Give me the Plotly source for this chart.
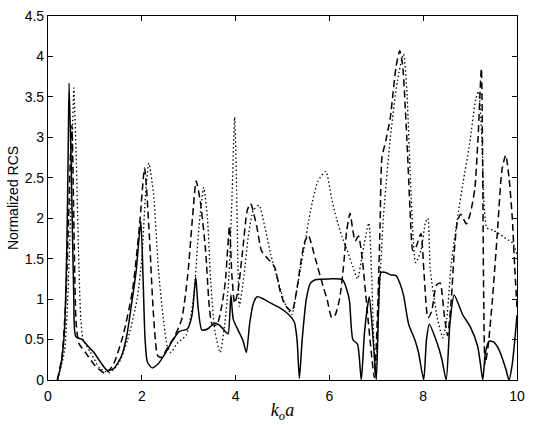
import plotly.graph_objects as go

# Solid curve
solid_x = [0.2, 0.28, 0.35, 0.4, 0.43, 0.45, 0.5, 0.55, 0.59, 0.73, 0.85, 0.98, 1.12, 1.26, 1.4, 1.57, 1.68, 1.77, 1.88, 1.98,
           2.03, 2.07, 2.12, 2.22, 2.35, 2.5, 2.65, 2.8, 2.97, 3.07, 3.15, 3.2, 3.28, 3.4, 3.55, 3.65, 3.78, 3.84, 3.9,
           3.95, 4.05, 4.15, 4.23, 4.3, 4.38, 4.46, 4.6, 4.75, 4.92, 5.13, 5.25, 5.31, 5.36, 5.42, 5.51, 5.6, 5.7,
           6.0, 6.28, 6.38, 6.43, 6.5, 6.6, 6.68, 6.75, 6.85, 6.92, 7.0, 7.05, 7.1, 7.2, 7.3, 7.42, 7.5, 7.58,
           7.69, 7.82, 7.9, 8.01, 8.07, 8.13, 8.3, 8.4, 8.49, 8.57, 8.66, 8.84, 9.01, 9.16, 9.22, 9.27, 9.33,
           9.41, 9.5, 9.62, 9.76, 9.83, 9.9, 10.0]
solid_y = [0.0, 0.2, 0.6, 1.6, 2.8, 3.67, 2.5, 1.0, 0.54, 0.5, 0.42, 0.34, 0.22, 0.12, 0.14, 0.3, 0.55, 0.89, 1.35, 1.96,
           1.2, 0.5, 0.22, 0.15, 0.2, 0.33, 0.48, 0.6, 0.63, 0.8, 1.27, 0.9, 0.62, 0.63, 0.7, 0.68, 0.6, 0.57, 1.05,
           0.75, 0.62, 0.5, 0.34, 0.7, 0.95, 1.03, 1.0, 0.95, 0.9, 0.81, 0.72, 0.5, 0.02, 0.5, 1.01, 1.2, 1.24,
           1.25, 1.24, 1.1, 0.97, 0.5, 0.44, 0.0, 0.6, 1.03, 0.6, 0.0, 0.9, 1.33, 1.33, 1.3, 1.29, 1.2, 1.05,
           0.69, 0.5, 0.34, 0.0, 0.5, 0.69, 0.45, 0.25, 0.0, 0.7, 1.05, 0.81, 0.65, 0.42, 0.2, 0.0, 0.35,
           0.48, 0.47, 0.37, 0.14, 0.0, 0.2, 0.8]

# Dashed curve
dash_x = [0.2, 0.3, 0.38, 0.44, 0.48, 0.51, 0.55, 0.6, 0.66, 0.8, 1.0, 1.23, 1.4, 1.6, 1.8, 1.95, 2.06, 2.15, 2.25,
          2.34, 2.42, 2.55, 2.7, 2.85, 2.98, 3.08, 3.16, 3.25, 3.36, 3.44, 3.5, 3.6, 3.7, 3.78, 3.87, 3.92, 3.98,
          4.05, 4.15, 4.25, 4.32, 4.45, 4.55, 4.64, 4.83, 4.95, 5.05, 5.2, 5.3, 5.39, 5.47, 5.55, 5.7, 5.88, 5.95,
          6.05, 6.12, 6.22, 6.3, 6.37, 6.44, 6.5, 6.55, 6.62, 6.7, 6.8, 6.9, 6.96, 7.03, 7.08, 7.12, 7.2, 7.3,
          7.42, 7.5, 7.56, 7.65, 7.72, 7.78, 7.85, 7.95, 8.02, 8.1, 8.18, 8.28, 8.36, 8.45, 8.52, 8.6, 8.66,
          8.73, 8.8, 8.92, 9.0, 9.1, 9.17, 9.24, 9.27, 9.29, 9.32, 9.38, 9.47, 9.58, 9.68, 9.76, 9.83, 9.9,
          9.95, 10.0]
dash_y = [0.0, 0.3, 1.0, 2.0, 2.8, 3.15, 2.0, 0.7, 0.45, 0.34, 0.18, 0.08, 0.2, 0.55, 1.1, 1.9, 2.62, 1.9, 0.8,
          0.3, 0.28, 0.4, 0.54, 0.75, 1.3, 2.0, 2.46, 2.2, 1.6, 0.9, 0.69, 0.68, 0.9, 1.21, 1.9, 1.3, 0.95,
          1.1, 1.6, 2.1, 2.18, 1.9, 1.6, 1.53, 1.4, 1.1, 0.93, 0.85, 1.1, 1.45, 1.7, 1.79, 1.5, 1.13, 1.0,
          0.77, 0.8, 1.01, 1.4, 1.85, 2.06, 1.85, 1.72, 1.78, 1.5, 0.9, 0.3, 0.03, 0.9, 1.9, 2.75, 2.95, 3.25,
          3.87, 4.07, 3.9, 3.0, 2.1, 1.6, 1.65, 1.81, 1.3, 0.77, 0.85, 1.17, 1.2, 0.8, 0.55, 1.0, 1.57,
          1.96, 2.05, 1.93, 2.05, 2.36, 3.0, 3.85, 2.5, 1.0, 0.2, 0.4, 0.95, 1.81, 2.6, 2.78, 2.5, 2.0,
          1.4, 0.9]

# Dotted curve
dot_x = [0.2, 0.35, 0.42, 0.48, 0.52, 0.55, 0.6, 0.65, 0.7, 0.75, 0.9, 1.1, 1.3, 1.5, 1.7, 1.9, 2.0, 2.08, 2.15,
         2.25, 2.35, 2.45, 2.55, 2.62, 2.75, 2.95, 3.1, 3.22, 3.32, 3.4, 3.47, 3.56, 3.67, 3.77, 3.85, 3.92,
         3.98, 4.02, 4.05, 4.08, 4.18, 4.27, 4.38, 4.5, 4.62, 4.75, 4.91, 5.05, 5.2, 5.3, 5.45, 5.6, 5.75, 5.92,
         6.05, 6.15, 6.27, 6.38, 6.5, 6.6, 6.7, 6.84, 6.9, 6.98, 7.05, 7.15, 7.3, 7.45, 7.58, 7.65, 7.72, 7.84,
         7.95, 8.05, 8.1, 8.15, 8.3, 8.42, 8.5, 8.6, 8.74, 8.85, 8.99, 9.12, 9.18, 9.25, 9.36, 9.5, 9.71, 9.91,
         10.0]
dot_y = [0.0, 0.35, 1.0, 2.0, 3.0, 3.61, 2.8, 1.6, 0.75, 0.5, 0.35, 0.15, 0.09, 0.2, 0.5, 1.0, 1.5, 2.3, 2.68,
         2.3, 1.4, 0.8, 0.4, 0.34, 0.45, 0.56, 1.0, 1.9, 2.38, 2.0, 1.21, 0.6, 0.34, 0.7, 1.21, 2.2,
         3.25, 2.4, 1.4, 0.91, 1.3, 1.77, 2.1, 2.16, 1.9, 1.55, 1.21, 0.95, 0.81, 1.1, 1.6, 2.1, 2.45, 2.58,
         2.24, 2.0, 1.77, 1.6, 1.4, 1.25, 1.55, 1.94, 1.3, 0.05, 0.9, 2.0, 3.0, 3.7, 4.03, 3.6, 2.6, 1.45,
         1.6, 1.95, 2.0, 1.37, 0.77, 0.52, 0.75, 1.45, 2.04, 2.44, 2.92, 3.47, 3.57, 3.0, 1.88, 1.85, 1.77, 1.69,
         1.55]

x_ticks = [0, 2, 4, 6, 8, 10]
y_ticks = [0, 0.5, 1, 1.5, 2, 2.5, 3, 3.5, 4, 4.5]

fig = go.Figure()
fig.add_trace(go.Scatter(x=solid_x, y=solid_y, mode="lines",
                         line=dict(color="black", width=1.5, shape="spline", smoothing=0.6)))
fig.add_trace(go.Scatter(x=dash_x, y=dash_y, mode="lines",
                         line=dict(color="black", width=1.5, dash="7px,4px", shape="spline", smoothing=0.6)))
fig.add_trace(go.Scatter(x=dot_x, y=dot_y, mode="lines",
                         line=dict(color="black", width=1.3, dash="1.5px,2.5px", shape="spline", smoothing=0.6)))

axis_common = dict(showgrid=False, zeroline=False, showline=True, linecolor="black", linewidth=1.2,
                   mirror="ticks", ticks="inside", ticklen=5, tickcolor="black",
                   tickfont=dict(family="Liberation Sans, Arial, sans-serif", size=14, color="black"))

fig.update_layout(
    width=533, height=425,
    margin=dict(l=48, r=10, t=8, b=40),
    paper_bgcolor="white", plot_bgcolor="white",
    showlegend=False,
    xaxis=dict(range=[0, 10], tickvals=x_ticks, ticktext=[str(v) for v in x_ticks],
               ticklabelstandoff=3,
               title=dict(text="<i>k<sub>o</sub>a</i>", standoff=0,
                          font=dict(family="Liberation Serif, serif", size=18, color="black")),
               **axis_common),
    yaxis=dict(range=[0, 4.5], tickvals=y_ticks, ticktext=[("%g" % v) for v in y_ticks],
               title=dict(text="Normalized RCS", standoff=2,
                          font=dict(family="Liberation Sans, Arial, sans-serif", size=14, color="black")),
               **axis_common),
)

fig.write_html("out.html")
